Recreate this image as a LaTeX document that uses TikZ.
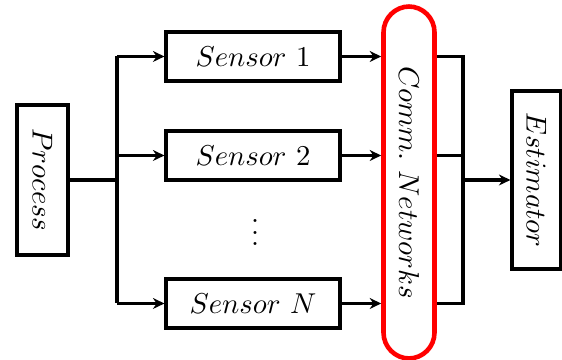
\documentclass[tikz,border=0pt]{standalone}
\usetikzlibrary{arrows.meta}
\begin{document}
\begin{tikzpicture}[x=0.348pt,y=-0.348pt,
  box/.style={draw,line width=1.1pt,inner sep=0pt},
  arr/.style={line width=1.1pt,-{Stealth[length=4pt,width=3.8pt]}},
  ln/.style={line width=1.1pt}]
\useasboundingbox (0,0) rectangle (562,360);
\node[box,rotate=-90,minimum width=150*0.348pt,minimum height=51*0.348pt] (proc) at (42.5,180) {$Process$};
\node[box,minimum width=174*0.348pt,minimum height=49*0.348pt] (s1) at (253,56.5) {$Sensor~1$};
\node[box,minimum width=174*0.348pt,minimum height=49*0.348pt] (s2) at (253,155.5) {$Sensor~2$};
\node[box,minimum width=174*0.348pt,minimum height=49*0.348pt] (sn) at (253,303.5) {$Sensor~N$};
\node[inner sep=0pt] (dots) at (255,224) {$\vdots$};
\node[draw=red,line width=1.6pt,rounded corners=9pt,rotate=-90,minimum width=352*0.348pt,minimum height=51*0.348pt,inner sep=0pt] (comm) at (409,182.5) {$Comm.~Networks$};
\node[box,rotate=-90,minimum width=178*0.348pt,minimum height=49*0.348pt] (est) at (536.5,180) {$Estimator$};
\coordinate (bx) at (117,180);
\coordinate (ox) at (463,180);
\draw[ln] (proc.north) -- (bx);
\draw[ln] (bx |- s1.west) -- (bx |- sn.west);
\draw[arr] (bx |- s1.west) -- (s1.west);
\draw[arr] (bx |- s2.west) -- (s2.west);
\draw[arr] (bx |- sn.west) -- (sn.west);
\draw[arr] (s1.east) -- (s1.east -| comm.south);
\draw[arr] (s2.east) -- (s2.east -| comm.south);
\draw[arr] (sn.east) -- (sn.east -| comm.south);
\draw[ln] (s1.east -| comm.north) -- (s1.east -| ox) -- (sn.east -| ox) -- (sn.east -| comm.north);
\draw[ln] (s2.east -| comm.north) -- (s2.east -| ox);
\draw[arr] (ox) -- (est.south);
\end{tikzpicture}
\end{document}
